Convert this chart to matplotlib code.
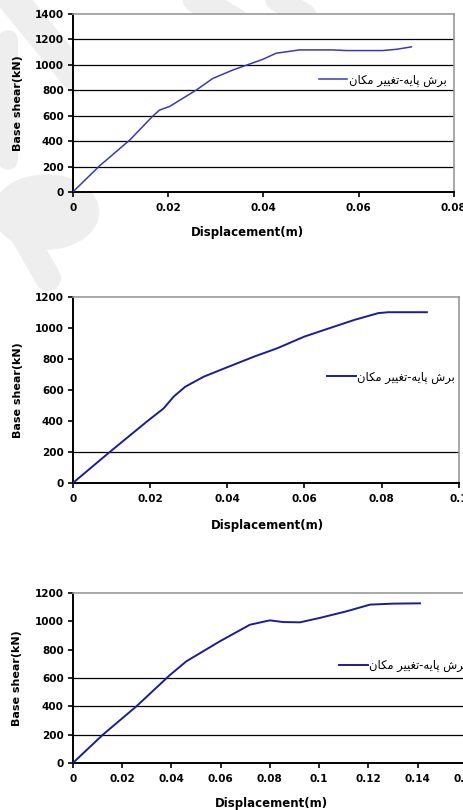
import numpy as np
import matplotlib
matplotlib.use("Agg")
import matplotlib.pyplot as plt
from matplotlib.lines import Line2D
from matplotlib.patches import Ellipse

plt.rcParams['font.family'] = ['DejaVu Sans']

# --- data ---
disp_1  = [0, 0.0056, 0.0120, 0.0168, 0.0182, 0.0203, 0.0259, 0.0294, 0.0336, 0.0399,
           0.0427, 0.0476, 0.0546, 0.0574, 0.0651, 0.0680, 0.0711]
shear_1 = [0, 205, 410, 597, 644, 672, 801, 893, 959, 1043,
           1091, 1117, 1117, 1112, 1112, 1122, 1141]

disp_2  = [0, 0.0096, 0.0191, 0.0235, 0.0261, 0.0291, 0.0339, 0.0400, 0.0470, 0.0530,
           0.0600, 0.0678, 0.0730, 0.0791, 0.0817, 0.0917]
shear_2 = [0, 201, 395, 481, 557, 621, 686, 747, 816, 870,
           945, 1010, 1053, 1096, 1102, 1102]

disp_3  = [0, 0.0122, 0.0258, 0.0393, 0.0461, 0.0597, 0.0719, 0.0800, 0.0854, 0.0922,
           0.1003, 0.1112, 0.1207, 0.1302, 0.1410]
shear_3 = [0, 200, 400, 619, 718, 859, 976, 1007, 995, 993,
           1024, 1071, 1118, 1125, 1127]

xticks_1 = [0, 0.02, 0.04, 0.06, 0.08]
xticks_2 = [0, 0.02, 0.04, 0.06, 0.08, 0.1]
xticks_3 = [0, 0.02, 0.04, 0.06, 0.08, 0.1, 0.12, 0.14, 0.16]
yticks_1 = [0, 200, 400, 600, 800, 1000, 1200, 1400]
yticks_23 = [0, 200, 400, 600, 800, 1000, 1200]
grid_1 = [200, 400, 600, 800, 1000, 1200]
grid_2 = [200]
grid_3 = [200, 400, 600]

# "برش پایه-تغییر مکان" written with presentation forms in visual order
legend_label = "\uFEE5\uFE8E\uFB91\uFEE3 \uFEAE\uFBFF\uFBFF\uFED0\uFE97-\uFEEA\uFBFE\uFE8E\uFB58 \uFEB5\uFEAE\uFE91"
xlabel = "Displacement(m)"
ylabel = "Base shear(kN)"

W, H = 464, 810
fig = plt.figure(figsize=(W / 100, H / 100), dpi=100)
fig.patch.set_facecolor("white")

# faint grey watermark behind the charts (pixel coords from top-left)
wm = "#eeeeee"
def px(x, y):
    return x / W, 1 - y / H
strokes = [((5, -10), (95, 100), 30), ((8, 40), (8, 160), 20), ((12, 215), (48, 278), 26),
           ((178, -12), (235, 22), 28), ((262, -10), (305, 16), 24)]
for (x0, y0), (x1, y1), lw in strokes:
    a, b = px(x0, y0), px(x1, y1)
    fig.add_artist(Line2D([a[0], b[0]], [a[1], b[1]], lw=lw * 0.72, color=wm,
                          solid_capstyle="round", transform=fig.transFigure, zorder=0))
fig.add_artist(Ellipse(px(46, 212), 105 / W, 74 / H, color=wm, transform=fig.transFigure, zorder=0))

panels = [
    dict(pos=[0.157, 0.763, 0.821, 0.2198], x=disp_1, y=shear_1, xt=xticks_1, yt=yticks_1,
         grid=grid_1, leg=(0.645, 0.629), lw=1.1, color="#3a3ab0", xl=(0.459, -0.19)),
    dict(pos=[0.157, 0.4037, 0.832, 0.2296], x=disp_2, y=shear_2, xt=xticks_2, yt=yticks_23,
         grid=grid_2, leg=(0.658, 0.57), lw=1.4, color="#1c1c9a", xl=(0.503, -0.195)),
    dict(pos=[0.157, 0.058, 0.849, 0.2099], x=disp_3, y=shear_3, xt=xticks_3, yt=yticks_23,
         grid=grid_3, leg=(0.676, 0.571), lw=1.4, color="#1c1c9a", xl=(0.505, -0.2)),
]

for p in panels:
    ax = fig.add_axes(p["pos"])
    ax.set_zorder(2)
    ax.plot(p["x"], p["y"], color=p["color"], lw=p["lw"], label=legend_label, zorder=3)
    for g in p["grid"]:
        ax.axhline(g, color="black", lw=0.9, zorder=1)
    ax.set_xlim(p["xt"][0], p["xt"][-1])
    ax.set_ylim(p["yt"][0], p["yt"][-1])
    ax.set_xticks(p["xt"])
    ax.set_yticks(p["yt"])
    ax.set_xticklabels([f"{t:g}" for t in p["xt"]], fontsize=7.5, fontweight="bold")
    ax.set_yticklabels([f"{t:g}" for t in p["yt"]], fontsize=7.5, fontweight="bold")
    ax.tick_params(direction="out", length=3.5, width=1.2)
    ax.tick_params(axis="x", pad=4.5)
    ax.tick_params(axis="y", pad=3)
    for s in ["top", "right"]:
        ax.spines[s].set_color("#9a9a9a")
        ax.spines[s].set_linewidth(1.2)
    for s in ["left", "bottom"]:
        ax.spines[s].set_color("black")
        ax.spines[s].set_linewidth(1.4)
    ax.set_xlabel(xlabel, fontsize=8.5, fontweight="bold")
    ax.xaxis.set_label_coords(*p["xl"])
    ax.set_ylabel(ylabel, fontsize=8, fontweight="bold")
    ax.yaxis.set_label_coords(-0.13, 0.5)
    ax.legend(loc="center left", bbox_to_anchor=p["leg"], frameon=False, fontsize=8.3,
              handlelength=2.5, handletextpad=0.1, borderpad=0, borderaxespad=0)

fig.savefig("out.png", dpi=100, facecolor="white")
